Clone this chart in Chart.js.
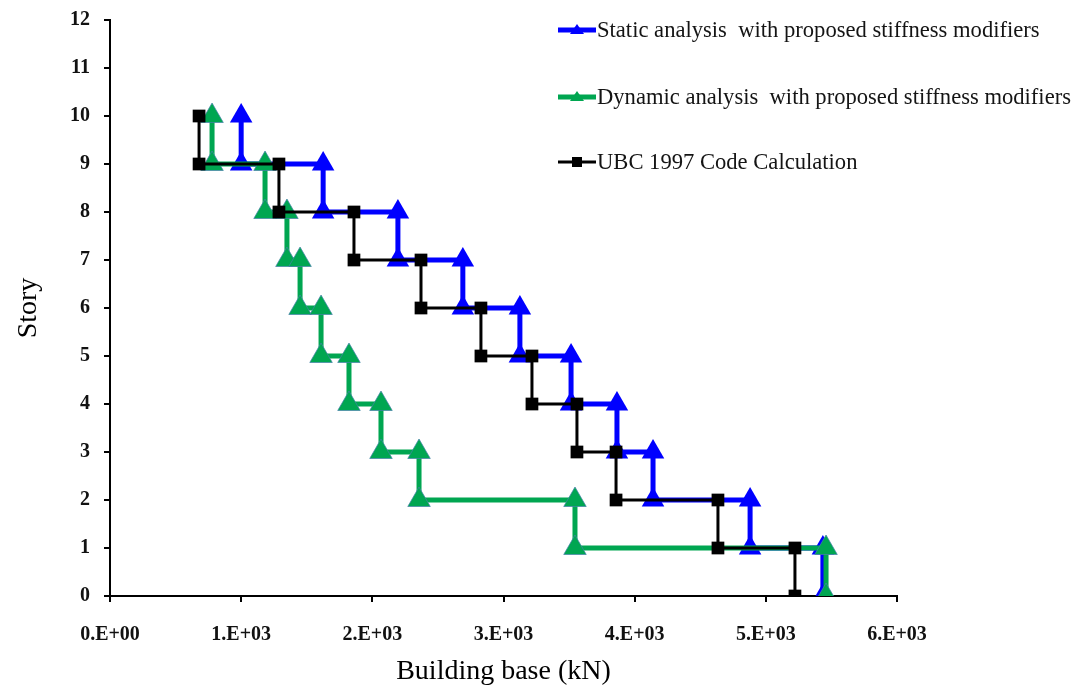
<!DOCTYPE html>
<html>
<head>
<meta charset="utf-8">
<title>Story shear</title>
<script src="https://cdn.jsdelivr.net/npm/chart.js@4.4.1/dist/chart.umd.min.js"></script>
<style>
  html, body { margin: 0; padding: 0; background: #fff; }
  #wrap { width: 1078px; height: 688px; }
</style>
</head>
<body>
<div id="wrap"><canvas id="chart" width="1078" height="688"></canvas></div>
<script>
// Story levels, top to bottom: each step runs from story s down to s - 1
const stories = [10, 9, 8, 7, 6, 5, 4, 3, 2, 1];

// Building base (kN) for each step
const staticBase = [1000, 1625, 2195, 2690, 3125, 3515, 3865, 4140, 4880, 5435];
const dynamicBase = [778, 1182, 1349, 1449, 1609, 1822, 2066, 2356, 3545, 5459];
const ubcBase = [679, 1288, 1860, 2371, 2828, 3217, 3560, 3858, 4635, 5222];

const seriesNames = [
    'Static analysis  with proposed stiffness modifiers',
    'Dynamic analysis  with proposed stiffness modifiers',
    'UBC 1997 Code Calculation'
];

const xTickLabels = ['0.E+00', '1.E+03', '2.E+03', '3.E+03', '4.E+03', '5.E+03', '6.E+03'];
const yTickLabels = ['0', '1', '2', '3', '4', '5', '6', '7', '8', '9', '10', '11', '12'];

// Turn one base value per story into the stair-step points
function stepPoints(base) {
    return base.flatMap((x, i) => [
        { x: x, y: stories[i] },
        { x: x, y: stories[i] - 1 }
    ]);
}

const serif = "'Liberation Serif', 'Times New Roman', serif";

// Legend drawn at the upper right, like the original
const sideLegend = {
    id: 'sideLegend',
    afterDraw(chart) {
        const ctx = chart.ctx;
        const rows = [30, 97, 162];
        chart.data.datasets.forEach((ds, i) => {
            const y = rows[i];
            ctx.save();
            ctx.strokeStyle = ds.borderColor;
            ctx.lineWidth = ds.borderWidth;
            ctx.beginPath();
            ctx.moveTo(558, y);
            ctx.lineTo(596, y);
            ctx.stroke();

            ctx.fillStyle = ds.pointBackgroundColor;
            ctx.beginPath();
            if (ds.pointStyle === 'triangle') {
                ctx.moveTo(577, y - 6);
                ctx.lineTo(584, y + 4);
                ctx.lineTo(570, y + 4);
            } else {
                ctx.rect(572, y - 5, 10, 10);
            }
            ctx.closePath();
            ctx.fill();

            ctx.fillStyle = '#141414';
            ctx.font = '22.6px ' + serif;
            ctx.textBaseline = 'middle';
            ctx.fillText(ds.label, 597, y + 1);
            ctx.restore();
        });
    }
};

const ctx = document.getElementById('chart').getContext('2d');
const chart = new Chart(ctx, {
    type: 'line',
    data: {
        datasets: [
            {
                label: seriesNames[0],
                data: stepPoints(staticBase),
                borderColor: '#0000ff',
                borderWidth: 5,
                pointStyle: 'triangle',
                pointRadius: 13,
                pointBackgroundColor: '#0000ff',
                pointBorderColor: '#0000ff',
                pointBorderWidth: 0,
                order: 2
            },
            {
                label: seriesNames[1],
                data: stepPoints(dynamicBase),
                borderColor: '#00a651',
                borderWidth: 5,
                pointStyle: 'triangle',
                pointRadius: 13,
                pointBackgroundColor: '#00a651',
                pointBorderColor: 'rgba(70,130,170,0.7)',
                pointBorderWidth: 1,
                order: 1
            },
            {
                label: seriesNames[2],
                data: stepPoints(ubcBase),
                borderColor: '#000000',
                borderWidth: 3,
                pointStyle: 'rect',
                pointRadius: 9,
                pointBackgroundColor: '#000000',
                pointBorderColor: '#000000',
                pointBorderWidth: 0,
                order: 0
            }
        ]
    },
    options: {
        responsive: false,
        animation: false,
        layout: { padding: { top: 20, right: 181, left: 0, bottom: 0 } },
        plugins: {
            legend: { display: false },
            tooltip: { enabled: false }
        },
        elements: { line: { tension: 0 } },
        scales: {
            x: {
                type: 'linear',
                min: 0,
                max: 6000,
                afterFit: (scale) => { scale.height = 92; },
                ticks: {
                    stepSize: 1000,
                    padding: 21,
                    color: '#111',
                    font: { family: serif, size: 20, weight: 'bold' },
                    callback: (v) => xTickLabels[v / 1000]
                },
                grid: { drawOnChartArea: false, drawTicks: true, tickLength: 6, color: '#000', lineWidth: 2 },
                border: { color: '#000', width: 2 },
                title: {
                    display: true,
                    text: 'Building base (kN)',
                    color: '#000',
                    font: { family: serif, size: 28 },
                    padding: { top: 4, bottom: 0 }
                }
            },
            y: {
                type: 'linear',
                min: 0,
                max: 12,
                afterFit: (scale) => {
                    scale.width = 110;
                    scale.paddingTop = 0;
                    scale.paddingBottom = 0;
                },
                ticks: {
                    stepSize: 1,
                    padding: 14,
                    color: '#111',
                    font: { family: serif, size: 20, weight: 'bold' },
                    callback: (v) => yTickLabels[v]
                },
                grid: { drawOnChartArea: false, drawTicks: true, tickLength: 6, color: '#000', lineWidth: 2 },
                border: { color: '#000', width: 2 },
                title: {
                    display: true,
                    text: 'Story',
                    color: '#000',
                    font: { family: serif, size: 28 },
                    padding: { top: 12, bottom: 0 }
                }
            }
        }
    },
    plugins: [sideLegend]
});
</script>
</body>
</html>
